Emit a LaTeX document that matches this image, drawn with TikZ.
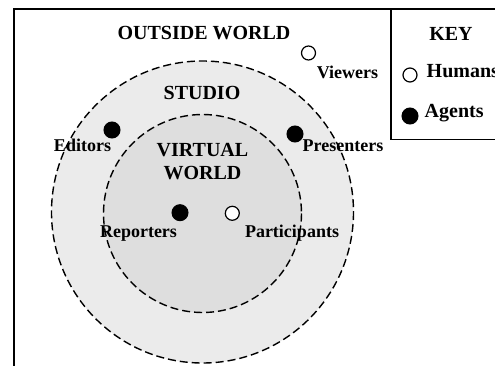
\documentclass[tikz,border=0pt]{standalone}
\usepackage{fontspec}
\setmainfont{Liberation Serif}
\begin{document}
\begin{tikzpicture}[x=1pt,y=-1pt,
  big/.style={font=\bfseries\fontsize{20}{22}\selectfont, inner sep=0pt, anchor=base},
  lab/.style={font=\bfseries\fontsize{18}{20}\selectfont, inner sep=0pt, anchor=base},
  keylab/.style={font=\bfseries\fontsize{20}{22}\selectfont, inner sep=0pt, anchor=base west},
  human/.style={circle, draw=black, fill=white, line width=1.2pt, minimum size=14pt, inner sep=0pt},
  agent/.style={circle, draw=black, fill=black, line width=1pt, minimum size=16pt, inner sep=0pt},
  zone/.style={draw=black, line width=1.4pt, dash pattern=on 8pt off 4pt},
  frame/.style={draw=black, line width=1.5pt}]
\useasboundingbox (0,0) rectangle (495,366);
% zones
\path[zone, fill=black!8] (202.5,212) circle (151);
\path[zone, fill=black!13] (202.5,213.5) circle (99);
% frame and key box
\coordinate (ftr) at (497,9);
\coordinate (ftl) at (14,9);
\coordinate (fbl) at (14,368);
\coordinate (kt) at (391,9);
\coordinate (kb) at (391,139.5);
\coordinate (kr) at (497,139.5);
\draw[frame] (fbl) -- (ftl) -- (ftr);
\draw[frame] (kt) -- (kb) -- (kr);
% titles
\node[big] (outside) at (204,39.3) {OUTSIDE WORLD};
\node[big] (studio) at (202,99.3) {STUDIO};
\node[big] (virtual) at (202.5,156.7) {VIRTUAL};
\node[big] (world) at (202.5,179.3) {WORLD};
% people
\node[human] (viewers) at (308.5,53) {};
\node[lab] (viewerst) at (347.5,78.3) {Viewers};
\node[agent] (editors) at (112,130) {};
\node[lab] (editorst) at (82.5,151.5) {Editors};
\node[agent] (presenters) at (295,134) {};
\node[lab] (presenterst) at (343,151.5) {Presenters};
\node[agent] (reporters) at (180,212.7) {};
\node[lab] (reporterst) at (138.5,237.5) {Reporters};
\node[human] (participants) at (232.3,213.3) {};
\node[lab] (participantst) at (292,237.5) {Participants};
% key
\node[big] (key) at (451,40.7) {KEY};
\node[human] (khuman) at (410,75) {};
\node[keylab] (khumant) at (426.5,77.5) {Humans};
\node[agent] (kagent) at (410,116) {};
\node[keylab] (kagentt) at (424.5,117.3) {Agents};
\end{tikzpicture}
\end{document}
